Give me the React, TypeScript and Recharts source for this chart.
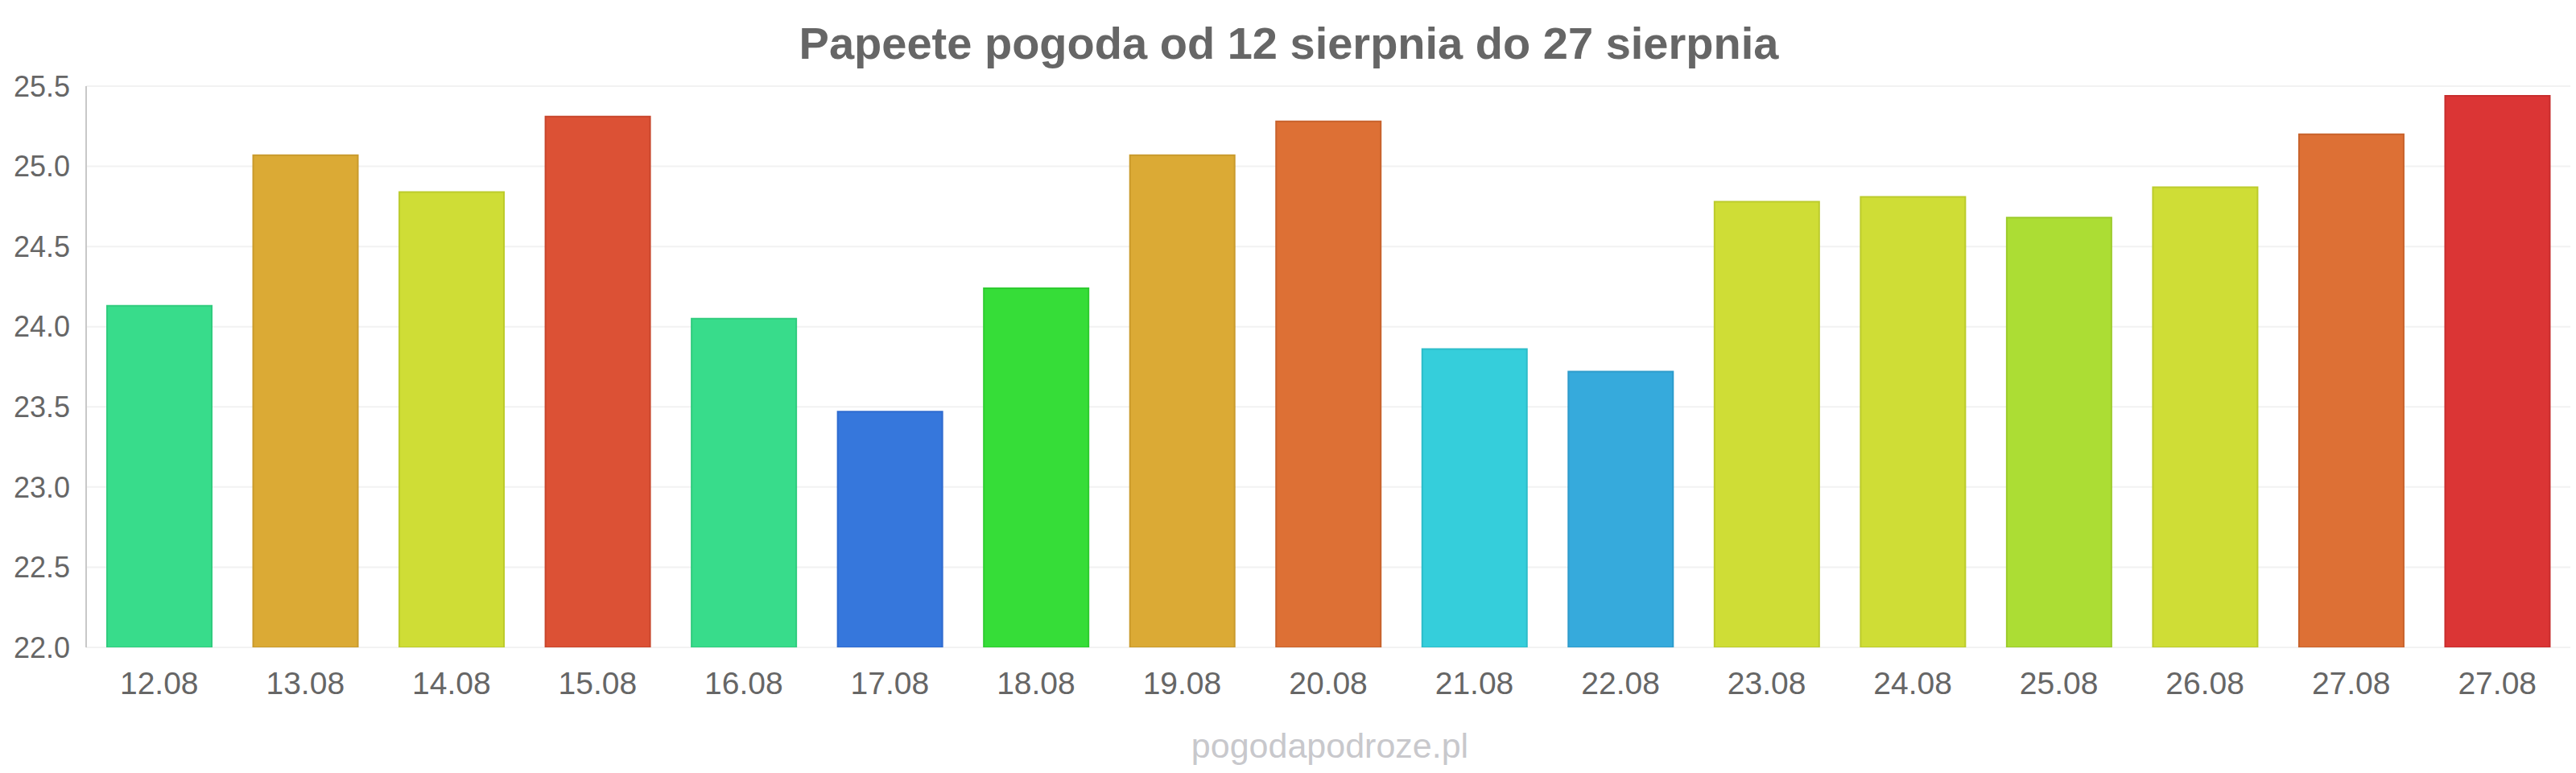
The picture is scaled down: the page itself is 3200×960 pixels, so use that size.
import { BarChart, Bar, XAxis, YAxis, CartesianGrid, Cell } from 'recharts'

const days = ['12.08', '13.08', '14.08', '15.08', '16.08', '17.08', '18.08', '19.08', '20.08', '21.08', '22.08', '23.08', '24.08', '25.08', '26.08', '27.08', '27.08']
const temps = [24.13, 25.07, 24.84, 25.31, 24.05, 23.47, 24.24, 25.07, 25.28, 23.86, 23.72, 24.78, 24.81, 24.68, 24.87, 25.2, 25.44]
const yTicks = [22, 22.5, 23, 23.5, 24, 24.5, 25, 25.5]

const fills = ['#38dc8b', '#dbaa35', '#cfdd36', '#dc5135', '#38dc8b', '#3677dc', '#36dd38', '#dbaa35', '#dd7035', '#35cedb', '#36aadc', '#cfdd36', '#cfdd36', '#acdd34', '#cfdd36', '#dd7035', '#db3535']
const strokes = ['#30cc7e', '#c99a2c', '#bccb2c', '#c8462c', '#30cc7e', '#2f6bd0', '#2ecb30', '#c99a2c', '#c8622c', '#2cbcc9', '#2d9bcc', '#bccb2c', '#bccb2c', '#9ccb2b', '#bccb2c', '#c8622c', '#c82d2d']

const FONT = '"Liberation Sans", Arial, sans-serif'

export default function App() {
  const data = days.map((d, i) => ({ day: d, key: i, temp: temps[i] }))

  return (
    <div style={{ position: 'absolute', left: 0, top: 0, width: 3200, height: 960, background: '#fff' }}>
      <BarChart width={3200} height={960} data={data} margin={{ top: 107, right: 7, left: 0, bottom: 96 }}>
        <CartesianGrid vertical={false} stroke="#f2f2f2" strokeWidth={2} />
        <XAxis
          dataKey="key"
          tickFormatter={(v) => days[v]}
          axisLine={false}
          tickLine={false}
          tickSize={0}
          tickMargin={30}
          height={60}
          interval={0}
          tick={{ fontSize: 39, fill: '#666', fontFamily: FONT }}
        />
        <YAxis
          width={107}
          domain={[22, 25.5]}
          ticks={yTicks}
          allowDataOverflow
          tickFormatter={(v) => Number(v).toFixed(1)}
          axisLine={{ stroke: '#c8c8c8', strokeWidth: 2 }}
          tickLine={false}
          tickSize={0}
          tickMargin={20}
          tick={{ fontSize: 36, fill: '#666', fontFamily: FONT }}
        />
        <Bar dataKey="temp" barSize={130} strokeWidth={2} isAnimationActive={false}>
          {data.map((d, i) => (
            <Cell key={i} fill={fills[i]} stroke={strokes[i]} />
          ))}
        </Bar>
      </BarChart>
      <svg width={3200} height={960} style={{ position: 'absolute', left: 0, top: 0, pointerEvents: 'none' }}>
        <text x={1601} y={73} textAnchor="middle" fontFamily={FONT} fontSize={56} fontWeight="bold" fill="#666">
          Papeete pogoda od 12 sierpnia do 27 sierpnia
        </text>
        <text x={1652} y={941} textAnchor="middle" fontFamily={FONT} fontSize={43} fill="#c8c8cc">
          pogodapodroze.pl
        </text>
      </svg>
    </div>
  )
}
